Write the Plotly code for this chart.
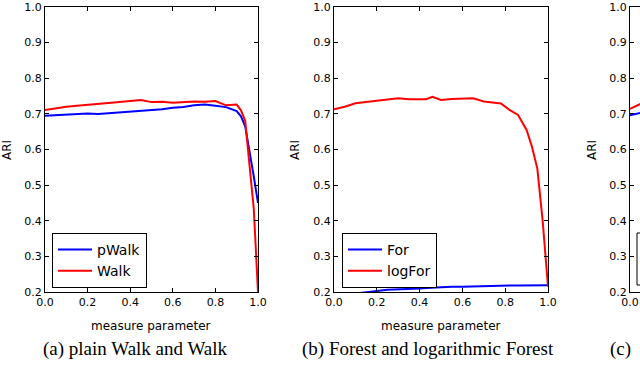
"""
ARI vs measure parameter, three panels (third cut off at the right edge)
"""

import plotly.graph_objects as go
from plotly.subplots import make_subplots

# panel (a): plain Walk and Walk
x_a = [0.0, 0.05, 0.1, 0.15, 0.2, 0.25, 0.3, 0.35, 0.4, 0.45, 0.5, 0.55,
       0.6, 0.65, 0.7, 0.75, 0.8, 0.85, 0.9, 0.92, 0.94, 0.96, 0.98, 1.0]
pwalk = [0.695, 0.697, 0.698, 0.700, 0.701, 0.700, 0.702, 0.704, 0.706, 0.709, 0.710, 0.713,
         0.717, 0.719, 0.724, 0.726, 0.723, 0.719, 0.708, 0.693, 0.665, 0.600, 0.525, 0.450]
walk = [0.711, 0.716, 0.720, 0.723, 0.725, 0.727, 0.729, 0.733, 0.736, 0.739, 0.733, 0.734,
        0.731, 0.733, 0.735, 0.734, 0.736, 0.724, 0.726, 0.710, 0.680, 0.557, 0.435, 0.200]

# panel (b): Forest and logarithmic Forest
x_b = [0.0, 0.05, 0.1, 0.15, 0.2, 0.25, 0.3, 0.35, 0.4, 0.43, 0.46, 0.5, 0.55,
       0.6, 0.65, 0.7, 0.75, 0.78, 0.82, 0.86, 0.9, 0.925, 0.95, 0.975, 1.0]
forest = [0.188, 0.192, 0.197, 0.201, 0.203, 0.206, 0.208, 0.209, 0.210, 0.211, 0.212, 0.214, 0.215,
          0.215, 0.216, 0.217, 0.217, 0.217, 0.218, 0.218, 0.218, 0.218, 0.219, 0.219, 0.219]
logforest = [0.713, 0.720, 0.730, 0.733, 0.738, 0.741, 0.744, 0.741, 0.740, 0.741, 0.748, 0.739, 0.742,
             0.744, 0.744, 0.735, 0.731, 0.729, 0.711, 0.697, 0.655, 0.608, 0.547, 0.400, 0.215]

# panel (c): only its left edge is visible
x_c = [0.0, 0.05, 0.1]
c_blue = [0.696, 0.703, 0.705]
c_red = [0.714, 0.728, 0.732]

y_ticks = [0.2, 0.3, 0.4, 0.5, 0.6, 0.7, 0.8, 0.9, 1.0]
x_ticks = [0.0, 0.2, 0.4, 0.6, 0.8, 1.0]
captions = ['(a) plain Walk and Walk', '(b) Forest and logarithmic Forest', '(c)']

W, H = 640, 365
BLUE = '#0000ff'
RED = '#ff0000'


def px_x(p):
    return p / W


def px_y(p):
    return 1 - p / H


fig = make_subplots(rows=1, cols=3)

fig.add_trace(go.Scatter(x=x_a, y=pwalk, mode='lines', name='pWalk',
                         line=dict(color=BLUE, width=2), legend='legend'), row=1, col=1)
fig.add_trace(go.Scatter(x=x_a, y=walk, mode='lines', name='Walk',
                         line=dict(color=RED, width=2), legend='legend'), row=1, col=1)

fig.add_trace(go.Scatter(x=x_b, y=forest, mode='lines', name='For',
                         line=dict(color=BLUE, width=2), legend='legend2'), row=1, col=2)
fig.add_trace(go.Scatter(x=x_b, y=logforest, mode='lines', name='logFor',
                         line=dict(color=RED, width=2), legend='legend2'), row=1, col=2)

fig.add_trace(go.Scatter(x=x_c, y=c_blue, mode='lines', showlegend=False,
                         line=dict(color=BLUE, width=2)), row=1, col=3)
fig.add_trace(go.Scatter(x=x_c, y=c_red, mode='lines', showlegend=False,
                         line=dict(color=RED, width=2)), row=1, col=3)

# axes placement in pixels (left, right)
x_domains = [(45, 258), (334, 548), (630, 640)]
y_domain = [px_y(292), px_y(7)]

axis_style = dict(
    showline=True, linecolor='black', linewidth=1, automargin=False,
    ticks='inside', ticklen=4, tickcolor='black', tickwidth=1,
    showgrid=False, zeroline=False, tickformat='.1f',
    tickfont=dict(family='DejaVu Sans', size=11, color='black'),
)

for i, (l, r) in enumerate(x_domains):
    last = i == 2
    xr = [0, 10 / 214] if last else [0, 1]
    fig.update_xaxes(domain=[px_x(l), px_x(r)], range=xr, tickvals=x_ticks,
                     mirror='allticks', row=1, col=i + 1, **axis_style)
    fig.update_yaxes(domain=y_domain, range=[0.2, 1.0], tickvals=y_ticks,
                     mirror=False if last else 'allticks', row=1, col=i + 1, **axis_style)

legend_style = dict(
    bgcolor='white', bordercolor='black', borderwidth=1,
    font=dict(family='DejaVu Sans', size=14, color='black'),
    xanchor='left', yanchor='top', tracegroupgap=0, itemwidth=34,
)

fig.update_layout(
    width=W, height=H,
    margin=dict(l=0, r=0, t=0, b=0),
    plot_bgcolor='white', paper_bgcolor='white',
    font=dict(family='DejaVu Sans', size=11, color='black'),
    legend=dict(x=px_x(52), y=px_y(233), **legend_style),
    legend2=dict(x=px_x(342), y=px_y(233), **legend_style),
)

# axis titles
for cx in [7, 295, 592]:
    fig.add_annotation(text='ARI', x=px_x(cx), y=px_y(150), xref='paper', yref='paper',
                       xanchor='center', yanchor='middle', textangle=-90, showarrow=False,
                       font=dict(family='DejaVu Sans', size=12, color='black'))
for cx in [151, 441]:
    fig.add_annotation(text='measure parameter', x=px_x(cx), y=px_y(326), xref='paper', yref='paper',
                       xanchor='center', yanchor='middle', showarrow=False,
                       font=dict(family='DejaVu Sans', size=12, color='black'))

# sub-figure captions
fig.add_annotation(text=captions[0], x=px_x(135), y=px_y(349), xref='paper', yref='paper',
                   xanchor='center', yanchor='middle', showarrow=False,
                   font=dict(family='Liberation Serif', size=19, color='black'))
fig.add_annotation(text=captions[1], x=px_x(428), y=px_y(349), xref='paper', yref='paper',
                   xanchor='center', yanchor='middle', showarrow=False,
                   font=dict(family='Liberation Serif', size=19, color='black'))
fig.add_annotation(text=captions[2], x=px_x(608), y=px_y(349), xref='paper', yref='paper',
                   xanchor='left', yanchor='middle', showarrow=False,
                   font=dict(family='Liberation Serif', size=19, color='black'))

# legend box of the cut-off third panel
fig.add_shape(type='rect', xref='paper', yref='paper',
              x0=px_x(637), x1=px_x(680), y0=px_y(285), y1=px_y(233),
              line=dict(color='black', width=1), fillcolor='white', layer='above')

# drop the page's default body margin so the figure sits at the window's corner
fig.write_html("out.html", config={'displayModeBar': False},
               post_script="document.body.style.margin = '0';")
